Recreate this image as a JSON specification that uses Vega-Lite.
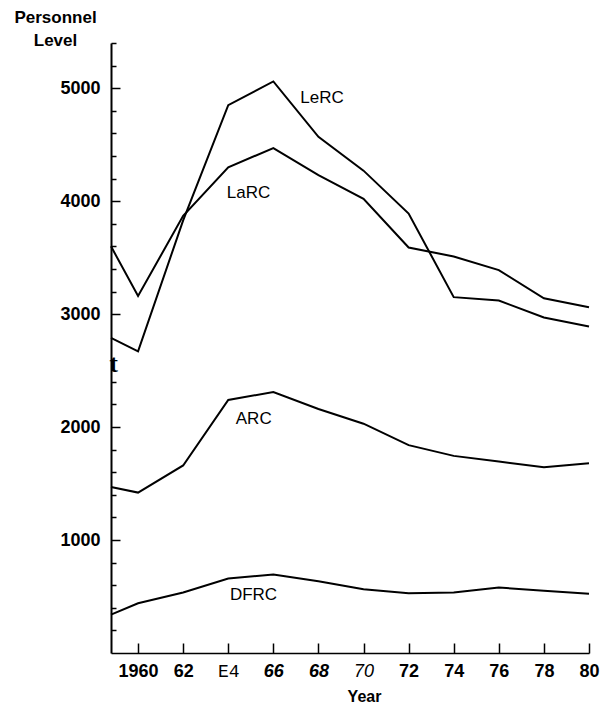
{
  "$schema": "https://vega.github.io/schema/vega-lite/v6.json",
  "width": 478,
  "height": 610,
  "autosize": {"type": "none"},
  "padding": {"left": 111, "top": 43, "right": 12, "bottom": 50},
  "background": "white",
  "config": {
    "view": {"stroke": null},
    "axis": {
      "labelFont": "Liberation Sans",
      "titleFont": "Liberation Sans",
      "domainColor": "black",
      "tickColor": "black",
      "labelColor": "black",
      "titleColor": "black",
      "grid": false
    }
  },
  "datasets": {
    "series": [
      {"center": "LeRC", "year": 1958.8, "value": 2790},
      {"center": "LeRC", "year": 1960, "value": 2670},
      {"center": "LeRC", "year": 1962, "value": 3830},
      {"center": "LeRC", "year": 1964, "value": 4850},
      {"center": "LeRC", "year": 1966, "value": 5060},
      {"center": "LeRC", "year": 1968, "value": 4570},
      {"center": "LeRC", "year": 1970, "value": 4270},
      {"center": "LeRC", "year": 1972, "value": 3890},
      {"center": "LeRC", "year": 1974, "value": 3150},
      {"center": "LeRC", "year": 1976, "value": 3120},
      {"center": "LeRC", "year": 1978, "value": 2970},
      {"center": "LeRC", "year": 1980, "value": 2890},
      {"center": "LaRC", "year": 1958.8, "value": 3600},
      {"center": "LaRC", "year": 1960, "value": 3160},
      {"center": "LaRC", "year": 1962, "value": 3870},
      {"center": "LaRC", "year": 1964, "value": 4300},
      {"center": "LaRC", "year": 1966, "value": 4470},
      {"center": "LaRC", "year": 1968, "value": 4230},
      {"center": "LaRC", "year": 1970, "value": 4020},
      {"center": "LaRC", "year": 1972, "value": 3590},
      {"center": "LaRC", "year": 1974, "value": 3510},
      {"center": "LaRC", "year": 1976, "value": 3390},
      {"center": "LaRC", "year": 1978, "value": 3140},
      {"center": "LaRC", "year": 1980, "value": 3060},
      {"center": "ARC", "year": 1958.8, "value": 1470},
      {"center": "ARC", "year": 1960, "value": 1420},
      {"center": "ARC", "year": 1962, "value": 1660},
      {"center": "ARC", "year": 1964, "value": 2240},
      {"center": "ARC", "year": 1966, "value": 2310},
      {"center": "ARC", "year": 1968, "value": 2160},
      {"center": "ARC", "year": 1970, "value": 2030},
      {"center": "ARC", "year": 1972, "value": 1840},
      {"center": "ARC", "year": 1974, "value": 1745},
      {"center": "ARC", "year": 1976, "value": 1695},
      {"center": "ARC", "year": 1978, "value": 1645},
      {"center": "ARC", "year": 1980, "value": 1680},
      {"center": "DFRC", "year": 1958.8, "value": 340},
      {"center": "DFRC", "year": 1960, "value": 440},
      {"center": "DFRC", "year": 1962, "value": 535},
      {"center": "DFRC", "year": 1964, "value": 660},
      {"center": "DFRC", "year": 1966, "value": 695},
      {"center": "DFRC", "year": 1968, "value": 635},
      {"center": "DFRC", "year": 1970, "value": 565},
      {"center": "DFRC", "year": 1972, "value": 530},
      {"center": "DFRC", "year": 1974, "value": 535},
      {"center": "DFRC", "year": 1976, "value": 580},
      {"center": "DFRC", "year": 1978, "value": 550},
      {"center": "DFRC", "year": 1980, "value": 525}
    ],
    "labels": [
      {"text": "LeRC", "year": 1968.16, "value": 4912},
      {"text": "LaRC", "year": 1964.9, "value": 4075},
      {"text": "ARC", "year": 1965.13, "value": 2075},
      {"text": "DFRC", "year": 1965.12, "value": 513}
    ],
    "glyph": [
      {"text": "t", "year": 1958.91, "value": 2557}
    ]
  },
  "resolve": {"axis": {"y": "independent"}},
  "layer": [
    {
      "data": {"name": "series"},
      "mark": {"type": "line", "color": "black", "strokeWidth": 2},
      "encoding": {
        "x": {
          "field": "year",
          "type": "quantitative",
          "scale": {"domain": [1958.8, 1980], "nice": false, "zero": false},
          "axis": {
            "values": [1960, 1962, 1964, 1966, 1968, 1970, 1972, 1974, 1976, 1978, 1980],
            "format": "d",
            "labelExpr": "datum.value == 1960 ? '1960' : datum.value == 1964 ? 'E4' : substring(datum.label, 2, 4)",
            "labelFont": {"condition": {"test": "datum.value == 1964", "value": "Liberation Mono"}, "value": "Liberation Sans"},
            "labelFontStyle": {"condition": {"test": "datum.value >= 1966 && datum.value <= 1970", "value": "italic"}, "value": "normal"},
            "labelFontWeight": {"condition": {"test": "datum.value == 1964 || datum.value == 1970", "value": "normal"}, "value": "bold"},
            "labelFontSize": 18,
            "labelPadding": 19,
            "labelFlush": false,
            "labelOverlap": false,
            "tickSize": -10,
            "tickWidth": 1.5,
            "domainWidth": 1.5,
            "title": "Year",
            "titleFontSize": 16,
            "titleFontWeight": "bold",
            "titleX": 253,
            "titleY": 48,
            "titleBaseline": "alphabetic",
            "titleAlign": "center"
          }
        },
        "y": {
          "field": "value",
          "type": "quantitative",
          "scale": {"domain": [0, 5400], "nice": false},
          "axis": {
            "orient": "left",
            "values": [1000, 2000, 3000, 4000, 5000],
            "format": "d",
            "labelFontSize": 18,
            "labelFontWeight": "bold",
            "labelPadding": 20,
            "labelFlush": false,
            "labelOverlap": false,
            "tickSize": -9,
            "tickWidth": 1.5,
            "domainWidth": 2,
            "title": ["Personnel", "Level"],
            "titleAngle": 0,
            "titleFontSize": 17,
            "titleFontWeight": "bold",
            "titleAlign": "center",
            "titleBaseline": "alphabetic",
            "titleLineHeight": 23,
            "titleX": -56,
            "titleY": -21
          }
        },
        "detail": {"field": "center", "type": "nominal"}
      }
    },
    {
      "data": {"name": "labels"},
      "mark": {"type": "text", "font": "Liberation Sans", "fontSize": 17, "color": "black", "align": "center", "baseline": "middle"},
      "encoding": {
        "x": {"field": "year", "type": "quantitative"},
        "y": {
          "field": "value",
          "type": "quantitative",
          "axis": {
            "orient": "left",
            "values": [200, 400, 600, 800, 1200, 1400, 1600, 1800, 2200, 2400, 3200, 3400, 3600, 3800, 4200, 4400, 4600, 4800, 5200, 5400],
            "labels": false,
            "domain": false,
            "tickSize": -5,
            "tickWidth": 1.5,
            "title": null
          }
        },
        "text": {"field": "text"}
      }
    },
    {
      "data": {"name": "glyph"},
      "mark": {"type": "text", "font": "Liberation Serif", "fontSize": 26, "fontWeight": "bold", "color": "black", "align": "center", "baseline": "middle"},
      "encoding": {
        "x": {"field": "year", "type": "quantitative"},
        "y": {"field": "value", "type": "quantitative", "axis": null},
        "text": {"field": "text"}
      }
    }
  ]
}
